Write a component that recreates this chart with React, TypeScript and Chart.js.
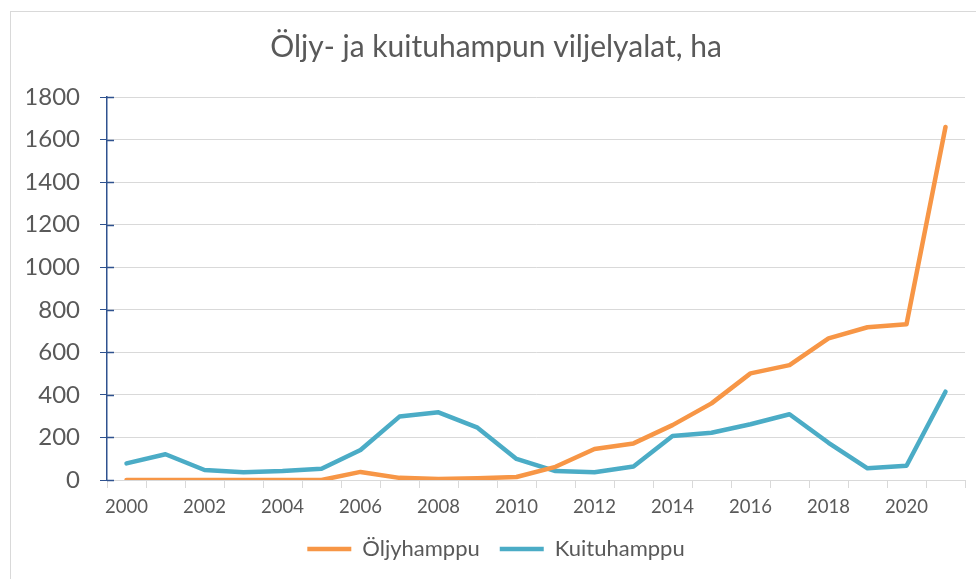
import React, { useEffect, useRef } from "react";
import { Chart, registerables } from "chart.js";

Chart.register(...registerables);

const years = ["2000","2001","2002","2003","2004","2005","2006","2007","2008","2009","2010","2011","2012","2013","2014","2015","2016","2017","2018","2019","2020","2021"];
const shownYears = ["2000","2002","2004","2006","2008","2010","2012","2014","2016","2018","2020"];
const oljyhamppu = [0,0,0,0,0,0,38,10,5,8,14,62,146,172,258,360,501,540,666,718,732,1659];
const kuituhamppu = [78,121,47,36,42,53,141,298,318,246,99,42,36,63,207,222,262,309,175,55,67,415];
const yMin = 0;
const yMax = 1800;
const yStep = 200;

const FONT = "Lato, 'Liberation Sans', sans-serif";
const TEXT = "#595959";
const GRID = "#D9D9D9";
const AXIS_BLUE = "#2F528F";

const innerTicks = {
  id: "innerTicks",
  afterDatasetsDraw(chart: any) {
    const y = chart.scales.y;
    const ctx = chart.ctx;
    const x0 = chart.chartArea.left;
    ctx.save();
    ctx.strokeStyle = AXIS_BLUE;
    ctx.lineWidth = 1.5;
    y.ticks.forEach((t: any) => {
      const py = Math.round(y.getPixelForValue(t.value)) + 0.5;
      ctx.beginPath();
      ctx.moveTo(x0, py);
      ctx.lineTo(x0 + 7, py);
      ctx.stroke();
    });
    ctx.restore();
  },
};

export default function App() {
  const ref = useRef<HTMLCanvasElement | null>(null);
  useEffect(() => {
    if (!ref.current) return;
    const chart = new Chart(ref.current, {
      type: "line",
      data: {
        labels: years,
        datasets: [
          {
            label: "Öljyhamppu",
            data: oljyhamppu,
            borderColor: "#F79646",
            backgroundColor: "#F79646",
            borderWidth: 4.5,
            pointRadius: 0,
            tension: 0,
            borderCapStyle: "round",
            borderJoinStyle: "round",
          },
          {
            label: "Kuituhamppu",
            data: kuituhamppu,
            borderColor: "#4BACC6",
            backgroundColor: "#4BACC6",
            borderWidth: 4.5,
            pointRadius: 0,
            tension: 0,
            borderCapStyle: "round",
            borderJoinStyle: "round",
          },
        ],
      },
      options: {
        responsive: false,
        animation: false,
        layout: { padding: { left: 27, right: 11, top: 0, bottom: 9 } },
        plugins: {
          title: {
            display: true,
            text: "Öljy- ja kuituhampun viljelyalat, ha",
            color: TEXT,
            font: { family: FONT, size: 30, weight: "normal" },
            padding: { top: 29, bottom: 32 },
          },
          legend: {
            position: "bottom",
            labels: {
              color: TEXT,
              font: { family: FONT, size: 22 },
              usePointStyle: true,
              pointStyle: "line",
              pointStyleWidth: 44,
              boxHeight: 22,
              padding: 20,
            },
          },
          tooltip: { enabled: false },
        },
        scales: {
          x: {
            offset: true,
            border: { color: GRID, width: 1 },
            grid: {
              offset: true,
              drawOnChartArea: false,
              color: GRID,
              tickColor: GRID,
              tickLength: 8,
            },
            ticks: {
              autoSkip: false,
              maxRotation: 0,
              color: TEXT,
              font: { family: FONT, size: 18.5 },
              padding: 8,
              callback: function (this: any, v: any) {
                const lab = this.getLabelForValue(v);
                return shownYears.includes(lab) ? lab : "";
              },
            },
            afterFit: (s: any) => {
              s.height = 38;
            },
          },
          y: {
            min: yMin,
            max: yMax,
            border: { color: AXIS_BLUE, width: 1.5 },
            grid: {
              color: GRID,
              tickColor: AXIS_BLUE,
              tickLength: 7,
              lineWidth: 1,
            },
            ticks: {
              stepSize: yStep,
              color: TEXT,
              font: { family: FONT, size: 24 },
              padding: 20,
              callback: (v: any) => String(v),
            },
            afterFit: (s: any) => {
              s.width = 80;
            },
          },
        },
      },
      plugins: [innerTicks],
    } as any);
    return () => chart.destroy();
  }, []);

  return (
    <div style={{ position: "fixed", left: 0, top: 0, width: 976, height: 579, background: "#fff", overflow: "hidden" }}>
      <div
        style={{
          position: "absolute",
          left: 10,
          top: 11,
          width: 980,
          height: 600,
          borderTop: "1px solid #D9D9D9",
          borderLeft: "1px solid #D9D9D9",
        }}
      />
      <canvas ref={ref} width={976} height={579} style={{ position: "absolute", left: 0, top: 0 }} />
    </div>
  );
}
